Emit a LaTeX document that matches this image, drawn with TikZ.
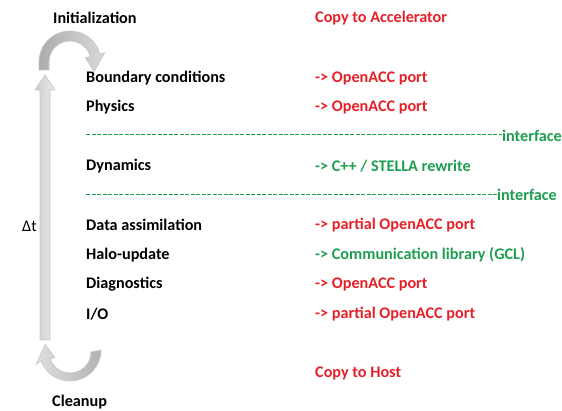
\documentclass[tikz,border=0pt]{standalone}
\usepackage{fontspec}
\setmainfont{Carlito}
\usepackage{tikz}
\usetikzlibrary{positioning,calc}
\definecolor{accred}{RGB}{230,32,40}
\definecolor{accgreen}{RGB}{30,158,80}

\begin{document}
\begin{tikzpicture}[x=1pt,y=1pt,
		lbl/.style={anchor=west,inner sep=0pt,font=\fontsize{16.2}{18}\selectfont\bfseries},
		todo/.style={lbl,text=accred},
		done/.style={lbl,text=accgreen},
		iface/.style={accgreen,line width=1.6pt,dash pattern=on 4pt off 1.5pt},
		bigarrow/.style={draw=gray!45,line width=0.6pt}]
		\useasboundingbox (0,0) rectangle (562,-411);

		% Define nodes
		\node[lbl] (init) at (53,-18) {Initialization};
		\node[todo] (copyacc) at (315,-18) {Copy to Accelerator};
		\node[lbl] (bc) at (86,-78) {Boundary conditions};
		\node[todo] (bcport) at (315,-78) {-> OpenACC port};
		\node[lbl] (phys) at (86,-107) {Physics};
		\node[todo] (physport) at (315,-107) {-> OpenACC port};
		\node[done] (if1) at (502,-136) {interface};
		\node[lbl] (dyn) at (86,-166) {Dynamics};
		\node[done] (dynport) at (315,-166) {-> C++ / STELLA rewrite};
		\node[done] (if2) at (497,-195) {interface};
		\node[lbl] (da) at (86,-225) {Data assimilation};
		\node[todo] (daport) at (315,-225) {-> partial OpenACC port};
		\node[lbl] (halo) at (86,-255) {Halo-update};
		\node[done] (haloport) at (315,-255) {-> Communication library (GCL)};
		\node[lbl] (diag) at (86,-284) {Diagnostics};
		\node[todo] (diagport) at (315,-284) {-> OpenACC port};
		\node[lbl] (io) at (86,-314) {I/O};
		\node[todo] (ioport) at (315,-314) {-> partial OpenACC port};
		\node[todo] (copyhost) at (315,-373) {Copy to Host};
		\node[lbl] (clean) at (52,-402) {Cleanup};
		\node[lbl,font=\fontsize{16.2}{18}\selectfont] (dt) at (22,-226) {Δt};

		% Interface lines
		\draw[iface] (86,-134.5) -- (if1.west |- 0,-134.5);
		\draw[iface] (86,-194.5) -- (if2.west |- 0,-194.5);

		% Time loop arrows
		\draw[bigarrow,left color=gray!40,right color=gray!15]
			(40,-340) -- (40,-90) -- (35,-90) -- (45,-75) -- (55,-90) -- (50,-90) -- (50,-340) -- cycle;
		\draw[bigarrow,left color=gray!65,right color=gray!30]
			(39,-70) -- (39,-62) arc[start angle=180,end angle=15,radius=31]
			-- ++(15:5) -- ($(70,-62)+(-22:26)$) -- ($(70,-62)+(15:16)$)
			-- ($(70,-62)+(15:21)$) arc[start angle=15,end angle=180,radius=21] -- (49,-70) -- cycle;
		\draw[bigarrow,left color=gray!25,right color=gray!60]
			(101,-350) arc[start angle=0,end angle=-160,radius=31]
			-- ($(70,-352)+(-160:36)$) -- ($(70,-352)+(163:26)$) -- ($(70,-352)+(-160:16)$)
			-- ($(70,-352)+(-160:21)$) arc[start angle=-160,end angle=0,radius=21] -- cycle;
\end{tikzpicture}
\end{document}
